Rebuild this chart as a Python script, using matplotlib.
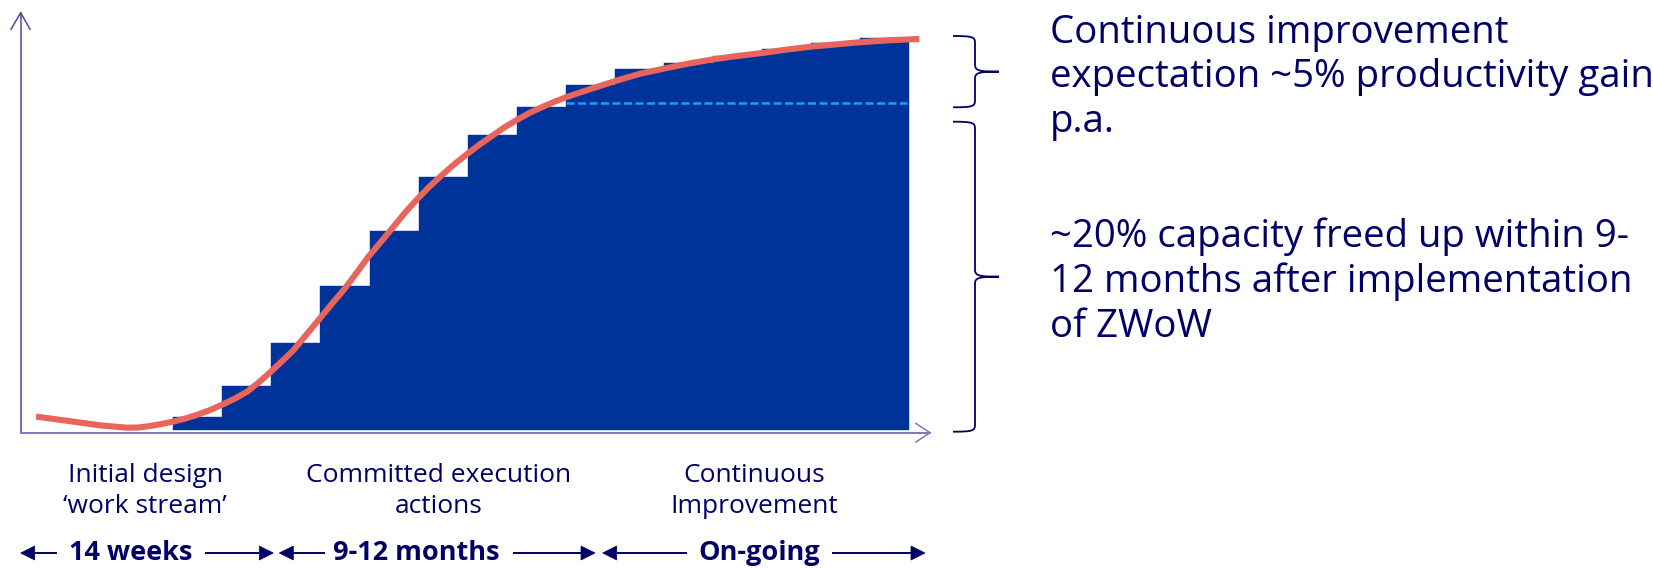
import matplotlib
matplotlib.use("Agg")
import matplotlib.pyplot as plt
from matplotlib.path import Path
from matplotlib.patches import PathPatch, Polygon
from matplotlib.transforms import Affine2D

# ---------------------------------------------------------------- data
periods = list(range(15))
capacity_freed = [3.2, 10.5, 20.6, 34.3, 47.3, 60.3, 70.3, 76.8,
                  82.2, 85.9, 87.5, 89.1, 90.6, 92.2, 93.3]

trend_x = [-3.30, -2.67, -1.99, -1.45, -1.20, -0.98, -0.75, -0.50, -0.25,
           -0.02, 0.24, 0.49, 0.75, 1.00, 1.24, 1.49, 1.72, 1.95, 2.22,
           2.49, 2.73, 2.97, 3.23, 3.48, 3.74, 3.99, 4.22, 4.46, 4.70,
           4.94, 5.22, 5.51, 5.76, 6.02, 6.27, 6.53, 6.78, 7.04, 7.30,
           7.55, 8.06, 8.54, 9.01, 9.52, 10.03, 10.53, 11.03, 11.53, 12.02,
           12.52, 13.00, 13.47, 14.10, 14.71]
trend_y = [3.2, 2.2, 1.1, 0.55, 0.6, 0.95, 1.4, 2.0, 2.75,
           3.6, 4.7, 6.0, 7.45, 9.1, 11.3, 13.9, 16.4, 19.0, 22.8,
           26.6, 30.0, 33.3, 37.3, 41.3, 44.9, 48.4, 51.7, 54.8, 57.7,
           60.3, 63.2, 65.9, 68.1, 70.2, 72.2, 74.0, 75.6, 77.0, 78.3,
           79.4, 81.4, 83.2, 84.8, 86.1, 87.3, 88.3, 89.1, 89.8, 90.6,
           91.3, 91.8, 92.3, 92.8, 93.1]

plateau_level = 77.9
plateau_span = (7.5, 14.45)

phase_labels = [["Initial design", "\u2018work stream\u2019"],
                ["Committed execution", "actions"],
                ["Continuous", "Improvement"]]
phase_durations = ["14 weeks", "9-12 months", "On-going"]

note_upper = ["Continuous improvement",
              "expectation ~5% productivity gain",
              "p.a."]
note_lower = ["~20% capacity freed up within 9-",
              "12 months after implementation",
              "of ZWoW"]

# ---------------------------------------------------------------- style
NAVY = "#000066"
BAR_BLUE = "#003399"
TREND_RED = "#E8655D"
DASH_BLUE = "#1A9FFF"
AXIS_COL = "#4B4B9E"
FONT = "Open Sans"

W, H = 1653, 568
fig = plt.figure(figsize=(W / 100, H / 100), dpi=100)
fig.patch.set_facecolor("white")

# pixel-space transform for the surrounding annotations (y grows downward)
px = Affine2D().scale(1 / W, -1 / H).translate(0, 1) + fig.transFigure

# chart scale: one period per bar, y in percent of capacity
STEP_PX, BAR0_PX, BASE_PY, UNIT_PY = 49.05, 173.3, 430.0, 4.2
ax = fig.add_axes([0, 0, 1, 1])
ax.set_xlim(-0.5 - BAR0_PX / STEP_PX, -0.5 + (W - BAR0_PX) / STEP_PX)
ax.set_ylim((BASE_PY - H) / UNIT_PY, BASE_PY / UNIT_PY)
ax.axis("off")

# stepped capacity bars
ax.bar(periods, capacity_freed, width=1.0, color=BAR_BLUE,
       edgecolor=BAR_BLUE, linewidth=0.3, zorder=2)

# plateau reference line
dash, = ax.plot(plateau_span, [plateau_level, plateau_level],
                color=DASH_BLUE, linewidth=1.8, zorder=3)
dash.set_dashes([3.2, 1.4])

# S-curve trend
ax.plot(trend_x, trend_y, color=TREND_RED, linewidth=4.4,
        solid_capstyle="butt", solid_joinstyle="round", zorder=4)

# axes with open arrow heads
x_origin = -0.5 - (BAR0_PX - 20.7) / STEP_PX
y_origin = (BASE_PY - 432.7) / UNIT_PY
y_top = (BASE_PY - 13.0) / UNIT_PY
x_end = (930.0 - BAR0_PX) / STEP_PX - 0.5
ax.plot([x_origin, x_origin], [y_origin, y_top], color=AXIS_COL, lw=1.1, zorder=1)
ax.plot([x_origin, x_end], [y_origin, y_origin], color="#7A7AB8", lw=1.4, zorder=1)
ax.plot([11.0, 20.7, 30.0], [29.3, 12.7, 29.3], color=AXIS_COL, lw=1.1,
        transform=px)
ax.plot([916.0, 930.0, 916.0], [423.5, 432.7, 442.0], color="#7A7AB8", lw=1.1,
        transform=px)


# ---------------------------------------------------------------- braces
def brace(x0, xs, xt, y0, y1):
    ym = (y0 + y1) / 2.0
    r = 7.0
    verts = [(x0, y0), (xs - 2, y0), (xs, y0 + 1), (xs, y0 + r),
             (xs, ym - r), (xs, ym - 1), (xs + 4, ym), (xt, ym),
             (xt, ym), (xs + 4, ym), (xs, ym + 1), (xs, ym + r),
             (xs, y1 - r), (xs, y1 - 1), (xs - 2, y1), (x0, y1)]
    codes = [Path.MOVETO, Path.CURVE4, Path.CURVE4, Path.CURVE4,
             Path.LINETO, Path.CURVE4, Path.CURVE4, Path.CURVE4,
             Path.MOVETO, Path.CURVE4, Path.CURVE4, Path.CURVE4,
             Path.LINETO, Path.CURVE4, Path.CURVE4, Path.CURVE4]
    fig.patches.append(PathPatch(Path(verts, codes), transform=px,
                                 facecolor="none", edgecolor=NAVY, lw=1.3))


brace(953, 975, 999, 36.0, 107.3)
brace(953, 975, 999, 121.7, 431.7)

# ---------------------------------------------------------------- notes
for i, line in enumerate(note_upper):
    fig.text(1050, 43.3 + 44.2 * i, line, transform=px, color=NAVY,
             fontsize=27.6, family=FONT, va="baseline", ha="left")
for i, line in enumerate(note_lower):
    fig.text(1050, 246.7 + 45.0 * i, line, transform=px, color=NAVY,
             fontsize=27.6, family=FONT, va="baseline", ha="left")

# ---------------------------------------------------------------- phases
phase_centres = [145.0, 439.0, 754.0]
for cx, lines in zip(phase_centres, phase_labels):
    for j, line in enumerate(lines):
        fig.text(cx, 482.3 + 31.0 * j, line, transform=px, color=NAVY,
                 fontsize=19.0, family=FONT, va="baseline", ha="center")

duration_centres = [130.8, 416.7, 759.2]
for cx, label in zip(duration_centres, phase_durations):
    fig.text(cx, 560.5, label, transform=px, color=NAVY, fontsize=19.5,
             family=FONT, fontweight="bold", va="baseline", ha="center")

ARROW_Y = 553.0
arrow_runs = [(56.7, 20.7), (205.0, 273.3), (325.0, 279.3),
              (512.7, 595.0), (686.7, 602.7), (831.7, 925.0)]
HEAD_L, HEAD_W = 14.0, 7.0
for start, tip in arrow_runs:
    sign = 1 if tip > start else -1
    neck = tip - sign * HEAD_L
    ax.plot([start, neck], [ARROW_Y, ARROW_Y], color=NAVY, lw=1.4,
            transform=px, solid_capstyle="butt")
    fig.patches.append(Polygon([(tip, ARROW_Y), (neck, ARROW_Y - HEAD_W),
                                (neck, ARROW_Y + HEAD_W)], closed=True,
                               transform=px, facecolor=NAVY, edgecolor=NAVY,
                               lw=0.5))

fig.savefig("out.png", dpi=100, facecolor="white")
